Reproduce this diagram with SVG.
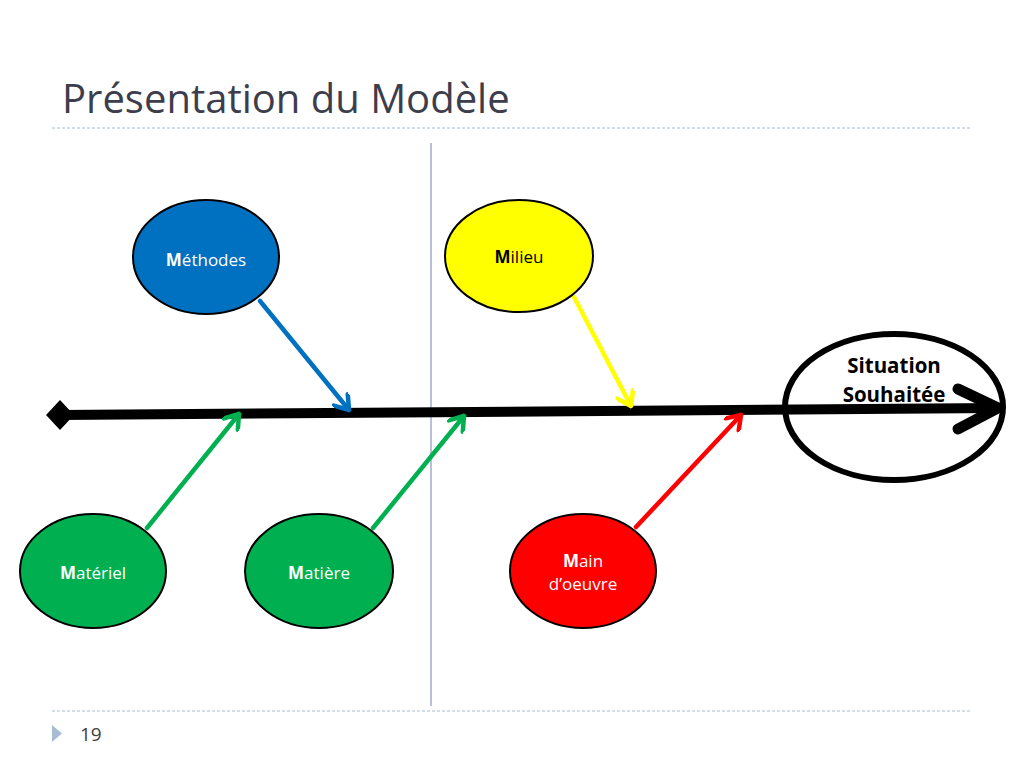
<svg xmlns="http://www.w3.org/2000/svg" width="1024" height="768" viewBox="0 0 1024 768">
<style>
.title{font-family:"Open Sans","Liberation Sans",sans-serif;font-size:40px;fill:#3d3d4c}
.lbl{font-family:"Open Sans","Liberation Sans",sans-serif;font-size:17px;text-anchor:middle}
.big{font-family:"Open Sans","Liberation Sans",sans-serif;font-size:20.5px;font-weight:bold;text-anchor:middle;fill:#000}
.node{stroke:#000;stroke-width:2}
.conn{stroke-width:4.5;fill:none;stroke-linecap:round}
.dash{stroke:#a9bccd;stroke-width:1;stroke-dasharray:3 2;fill:none}
</style>
<defs>
<marker id="mBlue" viewBox="-16 -10 18 20" refX="0" refY="0" markerWidth="18" markerHeight="20" markerUnits="userSpaceOnUse" orient="auto"><path d="M-13 -9 L0 0 L-13 9" fill="none" stroke="#0070c0" stroke-width="4.5" stroke-linecap="round" stroke-linejoin="round"/></marker>
<marker id="mYellow" viewBox="-16 -10 18 20" refX="0" refY="0" markerWidth="18" markerHeight="20" markerUnits="userSpaceOnUse" orient="auto"><path d="M-13 -9 L0 0 L-13 9" fill="none" stroke="#ffff00" stroke-width="4.5" stroke-linecap="round" stroke-linejoin="round"/></marker>
<marker id="mGreen" viewBox="-16 -10 18 20" refX="0" refY="0" markerWidth="18" markerHeight="20" markerUnits="userSpaceOnUse" orient="auto"><path d="M-13 -9 L0 0 L-13 9" fill="none" stroke="#00b050" stroke-width="4.5" stroke-linecap="round" stroke-linejoin="round"/></marker>
<marker id="mRed" viewBox="-16 -10 18 20" refX="0" refY="0" markerWidth="18" markerHeight="20" markerUnits="userSpaceOnUse" orient="auto"><path d="M-13 -9 L0 0 L-13 9" fill="none" stroke="#ff0000" stroke-width="4.5" stroke-linecap="round" stroke-linejoin="round"/></marker>
</defs>
<rect width="1024" height="768" fill="#fff"/>
<text class="title" x="62" y="113">Présentation du Modèle</text>
<line class="dash" x1="52" y1="128" x2="972" y2="128"/>
<line class="dash" x1="52" y1="711" x2="972" y2="711"/>
<line x1="431" y1="143" x2="431" y2="706" stroke="#7383b5" stroke-width="1"/>
<polygon points="52,725 62,733.5 52,742" fill="#a7bdd6"/>
<text x="80" y="741" font-family="'Open Sans','Liberation Sans',sans-serif" font-size="19" fill="#404040">19</text>

<g id="spine">
<line x1="60" y1="415" x2="998" y2="408" stroke="#000" stroke-width="10"/>
<polygon points="46,415 60,400 74,415 60,430" fill="#000"/>
<polyline points="958,389 998,408 958,429" fill="none" stroke="#000" stroke-width="11" stroke-linecap="round" stroke-linejoin="round"/>
</g>

<g id="connectors">
<line class="conn" stroke="#0070c0" x1="260" y1="301" x2="349" y2="410" marker-end="url(#mBlue)"/>
<line class="conn" stroke="#ffff00" x1="574" y1="297" x2="631" y2="406" marker-end="url(#mYellow)"/>
<line class="conn" stroke="#00b050" x1="147" y1="528" x2="239" y2="414" marker-end="url(#mGreen)"/>
<line class="conn" stroke="#00b050" x1="373" y1="528" x2="464" y2="416" marker-end="url(#mGreen)"/>
<line class="conn" stroke="#ff0000" x1="636" y1="527" x2="741" y2="415" marker-end="url(#mRed)"/>
</g>

<g id="methodes">
<ellipse class="node" cx="206" cy="257" rx="73" ry="57" fill="#0070c0"/>
<text class="lbl" x="206" y="266" fill="#fff"><tspan font-weight="bold">M</tspan>éthodes</text>
</g>
<g id="milieu">
<ellipse class="node" cx="519" cy="256" rx="74" ry="56" fill="#ffff00"/>
<text class="lbl" x="519" y="263" fill="#000"><tspan font-weight="bold">M</tspan>ilieu</text>
</g>
<g id="materiel">
<ellipse class="node" cx="93" cy="571" rx="73" ry="57" fill="#00b050"/>
<text class="lbl" x="93" y="579" fill="#fff"><tspan font-weight="bold">M</tspan>atériel</text>
</g>
<g id="matiere">
<ellipse class="node" cx="319" cy="571" rx="74" ry="57" fill="#00b050"/>
<text class="lbl" x="319" y="579" fill="#fff"><tspan font-weight="bold">M</tspan>atière</text>
</g>
<g id="main">
<ellipse class="node" cx="583" cy="571" rx="73" ry="57" fill="#ff0000"/>
<text class="lbl" x="583" y="567" fill="#fff"><tspan font-weight="bold">M</tspan>ain</text>
<text class="lbl" x="583" y="590" fill="#fff">d’oeuvre</text>
</g>
<g id="situation">
<ellipse cx="894" cy="407" rx="109" ry="73" fill="none" stroke="#000" stroke-width="6"/>
<text class="big" x="894" y="373">Situation</text>
<text class="big" x="894" y="402">Souhaitée</text>
</g>
</svg>
